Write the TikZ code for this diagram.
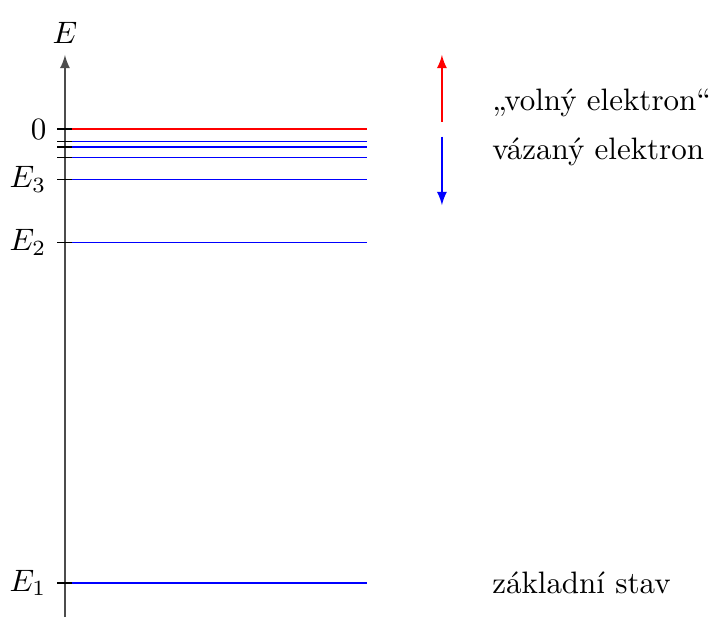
\documentclass[tikz,border=0pt]{standalone}
\usepackage{amsmath,amssymb}
\usepackage{tikz}
\usetikzlibrary{calc}
\usepackage{xcolor}

\begin{document}
\begin{tikzpicture}[x=1cm,y=0.3786cm,line width=0.5pt]
		\useasboundingbox (-0.737,-14.62) rectangle (7.44,3.865);
		\coordinate (AxisMin) at (0,-14.62);
		\coordinate (AxisMax) at (0,2.22);
		\draw [black!70,-latex] (AxisMin) -- (AxisMax);% Draw energy axis
		\node (ELabel) [above] at (AxisMax) {$E$};

		\foreach \n in {1,...,6}{% Levels E_n = -13.6/n^2
			\coordinate (T\n) at (-0.085,{-13.6/(\n*\n)});
			\coordinate (S\n) at (0.079,{-13.6/(\n*\n)});
			\coordinate (L\n) at (3.424,{-13.6/(\n*\n)});
			\draw [black] (T\n) -- (S\n);% tick
			\draw [blue] (S\n) -- (L\n);% level
		}
		\coordinate (T0) at (-0.085,0);
		\coordinate (S0) at (0.079,0);
		\coordinate (L0) at (3.424,0);
		\draw [black] (T0) -- (S0);
		\draw [red] (S0) -- (L0);% ionisation limit

		\node (Zero) [left] at (T0) {$0$};
		\node (EThree) [left] at (T3) {$E_3$};
		\node (ETwo) [left] at (T2) {$E_2$};
		\node (EOne) [left] at (T1) {$E_1$};

		% free vs. bound electron
		\coordinate (FreeA) at (4.275,0.22);
		\coordinate (FreeB) at (4.275,2.22);
		\coordinate (BoundA) at (4.275,-0.23);
		\coordinate (BoundB) at (4.275,-2.28);
		\draw [red,-latex] (FreeA) -- (FreeB);
		\draw [blue,-latex] (BoundA) -- (BoundB);
		\node (Free) [right] at (4.72,0.78) {„volný elektron“};
		\node (Bound) [right] at (4.72,-0.69) {vázaný elektron};
		\node (Ground) [right] at (4.72,-13.6) {základní stav};
	  \end{tikzpicture}
\end{document}
